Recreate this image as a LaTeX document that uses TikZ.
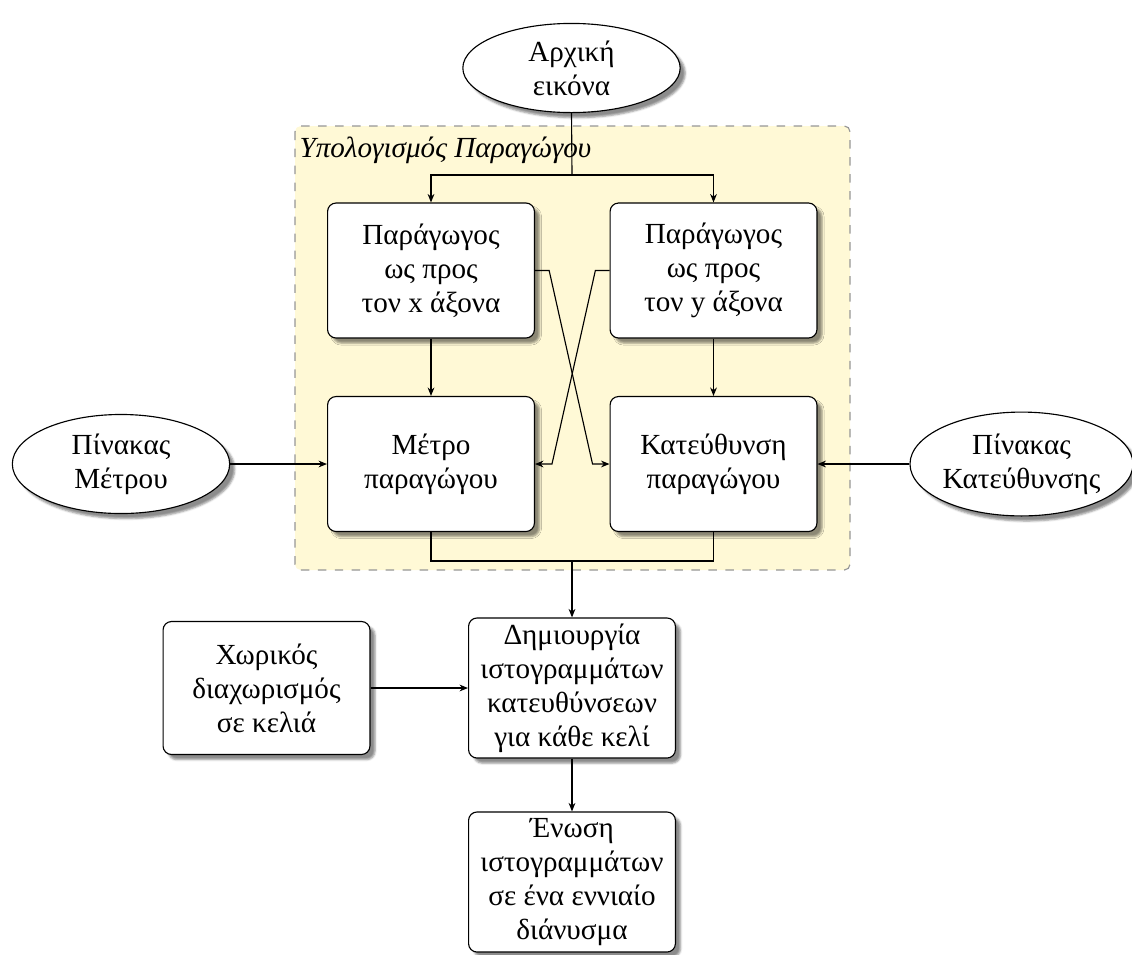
\documentclass[tikz,border=0pt]{standalone}
\usepackage{fontspec}
\setmainfont{Liberation Serif}
\usetikzlibrary{shapes.geometric,shadows.blur,arrows.meta,calc}
\definecolor{panelfill}{RGB}{255,249,214}
\definecolor{panelline}{RGB}{150,150,150}
\begin{document}
\begin{tikzpicture}[x=0.35336pt,y=-0.35336pt,
  font=\fontsize{10.3}{12}\selectfont,
  softshadow/.style={blur shadow={shadow xshift=1.8pt, shadow yshift=-1.8pt,
      shadow blur radius=0.7pt, shadow opacity=45}},
  box/.style={draw, fill=white, rounded corners=3pt, align=center,
      minimum width=73.1pt, minimum height=47.7pt, inner sep=2pt, softshadow},
  oval/.style={draw, fill=white, ellipse, align=center, inner sep=0pt,
      minimum width=76.8pt, softshadow},
  arr/.style={-{Stealth[length=3pt,width=2.4pt]}},
  panel/.style={draw=panelline, dashed, fill=panelfill, rounded corners=2pt},
]
\useasboundingbox (0,0) rectangle (1132,954);

% group frame for the derivative stage
\draw[panel] (295,126) rectangle (850,570);
\node[anchor=base west, inner xsep=0pt, font=\fontsize{10.3}{12}\selectfont\itshape] (paneltitle)
  at (299,157) {Υπολογισμός Παραγώγου};

% nodes
\node[oval, minimum height=31.5pt] (init) at (571.5,68) {Αρχική\\εικόνα};
\node[box] (dx) at (431,270.5) {Παράγωγος\\ως προς\\τον x άξονα};
\node[box] (dy) at (713.5,270.5) {Παράγωγος\\ως προς\\τον y άξονα};
\node[box] (mag) at (431,464) {Μέτρο\\παραγώγου};
\node[box] (dir) at (713.5,464) {Κατεύθυνση\\παραγώγου};
\node[oval, minimum height=35pt] (magtab) at (121,464) {Πίνακας\\Μέτρου};
\node[oval, minimum height=36.7pt] (dirtab) at (1021.5,464) {Πίνακας\\Κατεύθυνσης};
\node[box, minimum height=49.5pt, inner ysep=1pt] (hist) at (572,688)
  {Δημιουργία\\ιστογραμμάτων\\κατευθύνσεων\\για κάθε κελί};
\node[box, minimum height=47pt] (cells) at (266.5,688) {Χωρικός\\διαχωρισμός\\σε κελιά};
\node[box, minimum height=49.5pt, inner ysep=1pt] (concat) at (572,882)
  {Ένωση\\ιστογραμμάτων\\σε ένα εννιαίο\\διάνυσμα};

% connectors
\coordinate (split) at (572,175);
\draw (init.south) -- (split);
\draw[arr] (split) -| (dx.north);
\draw[arr] (split) -| (dy.north);
\draw[arr] (dx) -- (mag);
\draw[arr] (dy) -- (dir);
\draw[arr] (dx.east) -- ++(5pt,0) -- ($(dir.west)+(-6pt,0)$) -- (dir.west);
\draw[arr] (dy.west) -- ++(-5pt,0) -- ($(mag.east)+(6pt,0)$) -- (mag.east);
\draw[arr] (magtab) -- (mag);
\draw[arr] (dirtab) -- (dir);
\coordinate (join) at (572,561);
\draw (mag.south) |- (join) -| (dir.south);
\draw[arr] (join) -- (hist.north);
\draw[arr] (cells) -- (hist);
\draw[arr] (hist) -- (concat);
\end{tikzpicture}
\end{document}
